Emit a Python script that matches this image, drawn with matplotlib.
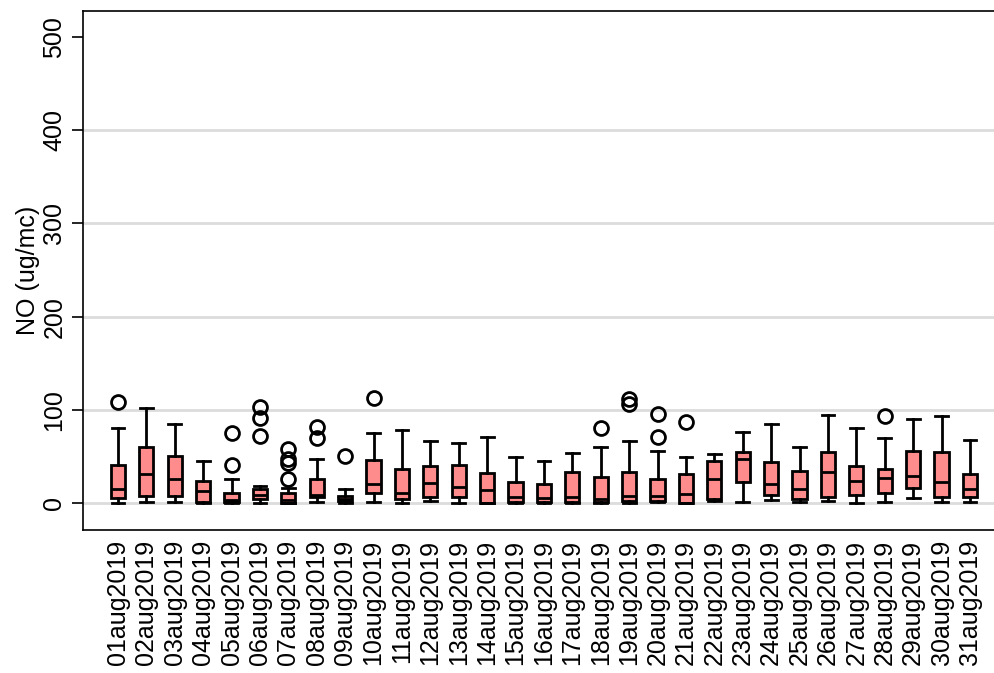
import matplotlib
matplotlib.use("Agg")
import matplotlib.pyplot as plt

dates = ["%02daug2019" % d for d in range(1, 32)]
whislo = [0, 1, 1.5, 0, 0, 0, 0, 1.5, 0, 1.5, 0, 2, 0, 0, 0.5, 0, 0, 0, 0, 1, 0, 1.8, 1.5, 3.6, 1.5, 1.8, 0, 1.5, 5.7, 1.5, 1.5]
q1     = [5.7, 7, 7, 1, 0.6, 4.5, 0.5, 6.5, 1.8, 10.4, 4, 6.8, 6.8, 0.5, 1.3, 1, 1.5, 1, 2.5, 1.8, 0.3, 4.6, 23, 8.6, 4.3, 6.4, 8.6, 11, 15.7, 6.4, 6.8]
med    = [15.4, 31, 26, 12.5, 3, 8.5, 3.5, 8.6, 4.3, 20.7, 10.4, 21.5, 17.5, 14.3, 6.4, 5.4, 6, 4.3, 7, 7.5, 10, 25.4, 46.8, 20.7, 15, 33, 24, 27, 29.3, 22.5, 15.4]
q3     = [40.4, 60, 50, 23.6, 10.7, 15.2, 10.4, 25.6, 7.5, 46, 36, 39.4, 41, 32, 23, 20.4, 33, 28, 33.6, 25.8, 31.5, 45, 54.7, 43.6, 34.7, 54.7, 39.7, 36, 55.4, 54.7, 31.5]
whishi = [80, 102, 84.4, 45, 25.8, 18.2, 16, 47, 15, 75.4, 78.3, 66.5, 64.7, 71, 49, 45, 53.6, 60, 66, 55.4, 49, 52.6, 75.8, 85, 60, 94.8, 80, 70, 90.5, 93.3, 67.2]
outliers = [[108], [], [], [], [75.5, 40.8], [102.6, 91.5, 71.5], [58, 47, 43, 25.4],
            [82, 69.4], [50.4], [113], [], [], [], [], [], [], [], [80], [112, 106],
            [95, 71], [87], [], [], [], [], [], [], [93], [], [], []]
yticks = [0, 100, 200, 300, 400, 500]
ylabel = "NO (ug/mc)"

plt.rcParams['font.family'] = ['Liberation Sans', 'DejaVu Sans']

fig = plt.figure(figsize=(9.94, 6.73), dpi=100)
ax = fig.add_axes([83/994, 1-530/673, 1-83/994+0.001, (530-11)/673])

stats = []
for i in range(len(dates)):
    stats.append(dict(whislo=whislo[i], q1=q1[i], med=med[i], q3=q3[i],
                      whishi=whishi[i], fliers=outliers[i], label=dates[i]))

positions = list(range(1, len(dates) + 1))
for yv in yticks[:-1]:
    ax.axhline(yv, color='#dcdcdc', lw=2, zorder=0)

bp = ax.bxp(stats, positions=positions, widths=0.5, patch_artist=True,
            showfliers=True,
            boxprops=dict(facecolor='#ff8c8c', edgecolor='black', linewidth=2),
            medianprops=dict(color='black', linewidth=2),
            whiskerprops=dict(color='black', linewidth=2),
            capprops=dict(color='black', linewidth=2),
            flierprops=dict(marker='o', markerfacecolor='none', markeredgecolor='black',
                            markersize=10, markeredgewidth=2),
            capwidths=0.45)

ax.set_xlim(-0.23, 31.88)
ax.set_ylim(-29, 528)
ax.set_yticks(yticks)
ax.set_yticklabels([str(v) for v in yticks], rotation=90, va='center', fontsize=18)
ax.set_xticks(positions)
ax.set_xticklabels(dates, rotation=90, fontsize=18)
ax.tick_params(axis='x', length=0, pad=7)
ax.tick_params(axis='y', length=8, width=1.2, pad=4)
ax.set_ylabel(ylabel, fontsize=18, labelpad=2)
ax.spines['right'].set_visible(False)
for s in ['left', 'top', 'bottom']:
    ax.spines[s].set_linewidth(1.2)

fig.savefig("out.png", dpi=100)
